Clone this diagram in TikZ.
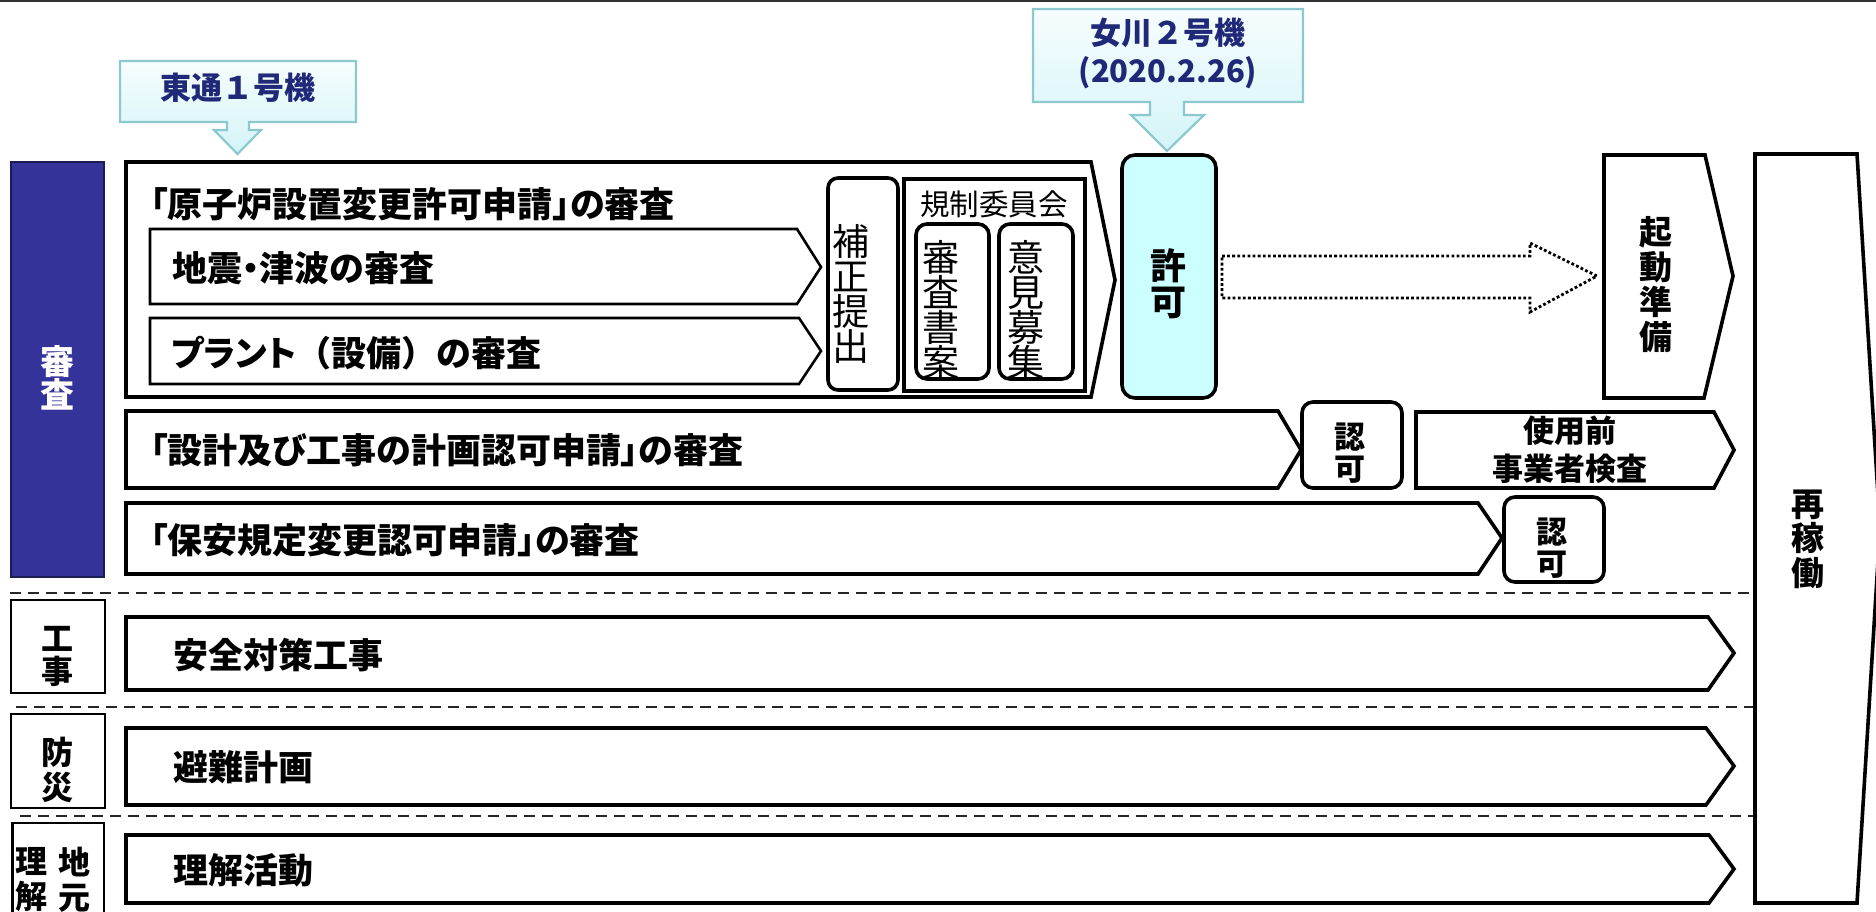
\documentclass[tikz,border=0pt]{standalone}
\usepackage{fontspec}
\setmainfont{Noto Sans CJK JP}[RawFeature=+palt]
\newfontfamily\jpfw{Noto Sans CJK JP}
\usetikzlibrary{shadings}
\definecolor{navy}{RGB}{32,40,120}
\definecolor{indigo}{RGB}{51,51,153}
\definecolor{lcyan}{RGB}{204,255,255}
\definecolor{calloutline}{RGB}{140,200,208}
\definecolor{calloutbot}{RGB}{212,244,248}
\definecolor{callouttop}{RGB}{246,253,254}
\newcommand{\fsz}[2]{\fontsize{#1}{#2}\selectfont\lineskiplimit=-200pt\lineskip=0pt\relax}
\begin{document}
\begin{tikzpicture}[x=1pt,y=-1pt,
  bigline/.style={draw=black, line width=3.6pt, line join=miter, fill=white},
  subline/.style={draw=black, line width=2.6pt, line join=miter, fill=white},
  labline/.style={draw=black, line width=2.2pt},
  rbox/.style={draw=black, line width=3.6pt, rounded corners=11pt, fill=white},
  sepline/.style={draw=black!85, line width=2pt, dash pattern=on 11pt off 7pt},
  callout/.style={draw=calloutline, line width=2.2pt, line join=miter, top color=callouttop, bottom color=calloutbot},
  callouttext/.style={inner sep=0pt, text=navy, font=\jpfw\bfseries\fsz{31}{31}},
  rowtext/.style={anchor=west, inner sep=0pt, font=\bfseries\fsz{35}{35}},
  vb33/.style={align=center, inner sep=0pt, font=\bfseries\fsz{33}{35}},
  vb31/.style={align=center, inner sep=0pt, font=\bfseries\fsz{31}{32}},
  vreg/.style={align=center, inner sep=0pt, font=\fsz{37}{35}},
  hb31/.style={inner sep=0pt, font=\bfseries\fsz{31}{31}}
]
\useasboundingbox (0,0) rectangle (1876,912);
\clip (0,0) rectangle (1876,912);

% top rule
\draw[line width=1.8pt, black!80] (0,0.9) -- (1876,0.9);

% callouts
\path[callout] (120,61) -- (356,61) -- (356,122) -- (249,122) -- (249,130) -- (261,130)
  -- (237.5,154) -- (214,130) -- (227,130) -- (227,122) -- (120,122) -- cycle;
\node[callouttext] (tohoku) at (238,88) {東通１号機};
\path[callout] (1033,9) -- (1303,9) -- (1303,102) -- (1184,102) -- (1184,115) -- (1204,115)
  -- (1167,151) -- (1131,115) -- (1150,115) -- (1150,102) -- (1033,102) -- cycle;
\node[callouttext] (onagawa) at (1168,33) {女川２号機};
\node[callouttext] (onadate) at (1168,73) {(2020.2.26)};

% left category labels
\draw[fill=indigo, draw=indigo!55!black, line width=1.6pt] (10.7,162) rectangle (104,577);
\node[vb33, text=white, font=\bfseries\fsz{34}{33}] (shinsa) at (57,378) {審\\査};
\draw[labline] (11,600) rectangle (105,693);
\node[vb33, font=\bfseries\fsz{32}{33}] (koji) at (57,656) {工\\事};
\draw[labline] (11,714) rectangle (105,808);
\node[vb33, font=\bfseries\fsz{32}{35}] (bosai) at (57,770) {防\\災};
\draw[labline] (12.5,823) rectangle (104,940);
\node[vb33, font=\bfseries\fsz{32}{35}] (jimoto) at (74,880) {地\\元};
\node[vb33, font=\bfseries\fsz{32}{35}] (rikai) at (31,880) {理\\解};

% dashed separators
\draw[sepline] (10,593) -- (1754,593);
\draw[sepline] (16,707) -- (1754,707);
\draw[sepline] (20,816) -- (1754,816);

% row 1: main review
\path[bigline] (126,162) -- (1091,162) -- (1115,280) -- (1091,397) -- (126,397) -- cycle;
\node[rowtext] (t1) at (150,204) {「原子炉設置変更許可申請」の審査};
\path[subline] (150,229) -- (797,229) -- (821,267) -- (797,304) -- (150,304) -- cycle;
\node[rowtext] (t1a) at (172,268) {地震・津波の審査};
\path[subline] (150,318) -- (799,318) -- (821,351) -- (799,384) -- (150,384) -- cycle;
\node[rowtext] (t1b) at (171,353) {プラント{\jpfw （設備）}の審査};

\path[rbox, rounded corners=10pt] (828,178) rectangle (898,390);
\node[vreg] (hosei) at (851,294) {補\\正\\提\\出};
\draw[line width=3.6pt] (904,179) rectangle (1085,391);
\node[inner sep=0pt, font=\fsz{29.5}{30}] (kisei) at (994,204) {規制委員会};
\path[rbox] (916,224) rectangle (989,379);
\node[vreg] (shoan) at (941,310) {審\\査\\書\\案};
\path[rbox] (999,224) rectangle (1073,379);
\node[vreg] (iken) at (1026,310) {意\\見\\募\\集};

% permission
\path[rbox, fill=lcyan, rounded corners=13pt] (1122,155) rectangle (1216,398);
\node[vb33, font=\bfseries\fsz{36}{36}] (kyoka) at (1168,284) {許\\可};

% dotted arrow
\draw[line width=2.8pt, dash pattern=on 2.8pt off 2.3pt, line join=miter]
  (1222,256) -- (1530,256) -- (1530,243) -- (1597,276) -- (1530,312) -- (1530,298) -- (1222,298) -- cycle;

% start-up preparation
\path[bigline] (1604,155) -- (1705,155) -- (1733,276) -- (1704,398) -- (1604,398) -- cycle;
\node[vb33] (kido) at (1656,285) {起\\動\\準\\備};

% restart
\path[bigline] (1755,154) -- (1857,154) -- (1880,528) -- (1857,903) -- (1755,903) -- cycle;
\node[vb33, font=\bfseries\fsz{33}{34.5}] (saikado) at (1808,539) {再\\稼\\働};

% row 2
\path[bigline] (126,411) -- (1278,411) -- (1301,450) -- (1278,488) -- (126,488) -- cycle;
\node[rowtext] (t2) at (150,450) {「設計及び工事の計画認可申請」の審査};
\path[rbox] (1302,402) rectangle (1402,488);
\node[vb31] (ninka1) at (1350,453) {認\\可};
\path[bigline] (1416,412) -- (1714,412) -- (1734,450) -- (1714,488) -- (1416,488) -- cycle;
\node[hb31] (shiyo1) at (1570,431) {使用前};
\node[hb31] (shiyo2) at (1570,469) {事業者検査};

% row 3
\path[bigline] (126,503) -- (1478,503) -- (1502,538) -- (1478,574) -- (126,574) -- cycle;
\node[rowtext] (t3) at (150,540) {「保安規定変更認可申請」の審査};
\path[rbox] (1504,497) rectangle (1604,582);
\node[vb31] (ninka2) at (1552,548) {認\\可};

% works
\path[bigline] (126,617) -- (1708,617) -- (1734,653) -- (1708,690) -- (126,690) -- cycle;
\node[rowtext] (t4) at (173,655) {安全対策工事};
% disaster prevention
\path[bigline] (126,728) -- (1706,728) -- (1734,766) -- (1706,805) -- (126,805) -- cycle;
\node[rowtext] (t5) at (173,767) {避難計画};
% local understanding
\path[bigline] (126,835) -- (1709,835) -- (1734,869) -- (1709,903) -- (126,903) -- cycle;
\node[rowtext] (t6) at (173,870) {理解活動};
\end{tikzpicture}
\end{document}
